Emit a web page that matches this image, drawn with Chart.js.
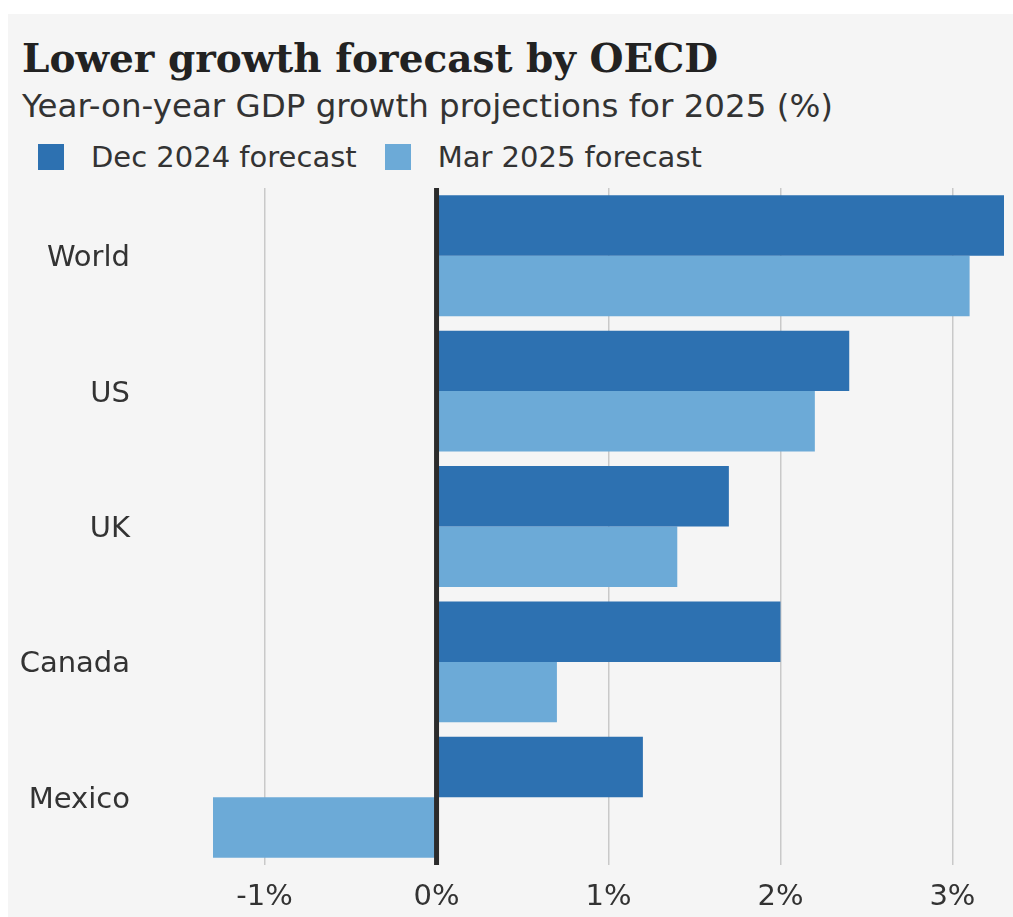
<!DOCTYPE html>
<html>
<head>
<meta charset="utf-8">
<script src="https://cdn.jsdelivr.net/npm/chart.js@4"></script>
<style>
  body { margin: 0; background: #fff; }
  #card { position: absolute; left: 8px; top: 14px; width: 1005px; height: 903px; background: #f5f5f5; font-family: "DejaVu Sans", sans-serif; color: #333; }
  #title { position: absolute; left: 14px; top: 21px; font: bold 39px "DejaVu Serif", serif; color: #222; white-space: nowrap; }
  #subtitle { position: absolute; left: 14px; top: 73px; font-size: 32.5px; white-space: nowrap; }
  #legend { position: absolute; left: 30px; top: 126px; display: flex; font-size: 29px; line-height: 34px; }
  .item { display: flex; align-items: center; margin-right: 28px; }
  .box { width: 26px; height: 26px; margin-right: 27px; }
  #chart { position: absolute; left: 0; top: 166px; }
</style>
</head>
<body>
<div id="card">
  <div id="title">Lower growth forecast by OECD</div>
  <div id="subtitle">Year-on-year GDP growth projections for 2025 (%)</div>
  <div id="legend"></div>
  <canvas id="chart" width="1005" height="737"></canvas>
</div>
<script>
"use strict";

// 1: data
const countries = ['World', 'US', 'UK', 'Canada', 'Mexico'];
const dec2024 = [3.3, 2.4, 1.7, 2.0, 1.2];
const mar2025 = [3.1, 2.2, 1.4, 0.7, -1.3];
const seriesNames = ['Dec 2024 forecast', 'Mar 2025 forecast'];
const seriesColors = ['#2d71b1', '#6caad7'];
const tickValues = [-1, 0, 1, 2, 3];

// 2: html legend
const legend = document.getElementById('legend');
seriesNames.forEach(function (name, i) {
  const item = document.createElement('div');
  item.className = 'item';
  const box = document.createElement('span');
  box.className = 'box';
  box.style.background = seriesColors[i];
  const label = document.createElement('span');
  label.textContent = name;
  item.appendChild(box);
  item.appendChild(label);
  legend.appendChild(item);
});

// zero line sits on top of the bars
const zeroLine = {
  id: 'zeroLine',
  afterDatasetsDraw(chart) {
    const x = chart.scales.x.getPixelForValue(0);
    const area = chart.chartArea;
    const ctx = chart.ctx;
    ctx.save();
    ctx.strokeStyle = '#2b2b2b';
    ctx.lineWidth = 5;
    ctx.beginPath();
    ctx.moveTo(x, area.top);
    ctx.lineTo(x, area.bottom);
    ctx.stroke();
    ctx.restore();
  }
};

// 3: chart
new Chart(document.getElementById('chart'), {
  type: 'bar',
  data: {
    labels: countries,
    datasets: [{
      label: seriesNames[0],
      data: dec2024,
      backgroundColor: seriesColors[0]
    },
    {
      label: seriesNames[1],
      data: mar2025,
      backgroundColor: seriesColors[1]
    }]
  },
  options: {
    indexAxis: 'y',
    responsive: false,
    animation: false,
    categoryPercentage: 0.893,
    barPercentage: 1,
    layout: { padding: { left: 0, right: 9, top: 8, bottom: 0 } },
    plugins: {
      legend: { display: false },
      tooltip: { enabled: false }
    },
    scales: {
      x: {
        min: -1.3,
        max: 3.3,
        afterBuildTicks(scale) {
          scale.ticks = tickValues.map(v => ({ value: v }));
        },
        afterFit(scale) { scale.height = 52; },
        border: { display: false },
        grid: {
          drawTicks: false,
          color: ctx => ctx.tick && ctx.tick.value === 0 ? 'rgba(0,0,0,0)' : '#c9c9c9',
          lineWidth: 1.5
        },
        ticks: {
          padding: 15,
          color: '#333',
          font: { family: 'DejaVu Sans', size: 29 },
          callback: v => v + '%'
        }
      },
      y: {
        afterFit(scale) {
          scale.width = 205;
          scale.paddingTop = 0;
          scale.paddingBottom = 0;
        },
        border: { display: false },
        grid: { display: false, drawTicks: false },
        ticks: {
          padding: 83,
          labelOffset: 3,
          color: '#333',
          font: { family: 'DejaVu Sans', size: 29 }
        }
      }
    }
  },
  plugins: [zeroLine]
});
</script>
</body>
</html>
